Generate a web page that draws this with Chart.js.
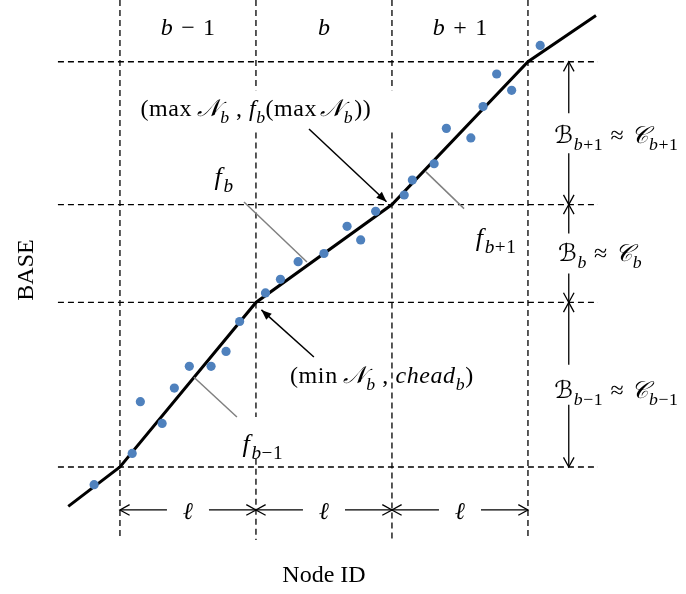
<!DOCTYPE html>
<html><head><meta charset="utf-8">
<script src="https://cdn.jsdelivr.net/npm/chart.js@4"></script>
<style>html,body{margin:0;padding:0;background:#fff}#wrap{width:686px;height:594px;position:relative}</style>
</head><body><div id="wrap"><canvas id="c" width="686" height="594"></canvas></div>
<script>
// ---- data (node ID units: one block = ℓ = 10) ----
const blockEdges = [0, 10, 20, 30];
const blockLabels = ['b', 'b', 'b'];
const blockOffsets = ['−1', '', '+1'];
const baseLevels = [0, 12.1, 19.3, 29.8];
const nodeIds    = [-1.9, 0.9, 1.5, 3.1, 4.0, 5.1, 6.7, 7.8, 8.8, 10.7, 11.8, 13.1, 15.0, 16.7, 17.7, 18.8, 20.9, 21.5, 23.1, 24.0, 25.8, 26.7, 27.7, 28.8, 30.9];
const baseValues = [-1.3, 1.0, 4.8, 3.2, 5.8, 7.4, 7.4, 8.5, 10.7, 12.8, 13.8, 15.1, 15.7, 17.7, 16.7, 18.8, 20.0, 21.1, 22.3, 24.9, 24.2, 26.5, 28.9, 27.7, 31.0];
const fitNodeIds = [-3.8, 0, 10, 20, 30, 35];
const fitBase    = [-2.9, 0, 12.1, 19.3, 29.8, 33.2];

// ---- layout (axis window, in data units) ----
const X_MIN = -8.82, X_MAX = 41.62, Y_MIN = -9.34, Y_MAX = 34.34;
const GRID_X_FROM = -4.56, GRID_X_TO = 35.15;
const VLINE_BOTTOM = -5.37;
const vGaps = { 10: [[27.7, 24.6], [3.68, 0.6]], 20: [[27.7, 24.6]] };

const datasets = [];
datasets.push({ data: nodeIds.map((x, i) => ({ x, y: baseValues[i] })), showLine: false,
  pointRadius: 4.6, pointBackgroundColor: '#4F81BD', pointBorderWidth: 0, order: 0 });
datasets.push({ data: fitNodeIds.map((x, i) => ({ x, y: fitBase[i] })), showLine: true,
  borderColor: '#000', borderWidth: 3, pointRadius: 0, order: 1 });
baseLevels.forEach(l => datasets.push({ data: [{ x: GRID_X_FROM, y: l }, { x: GRID_X_TO, y: l }],
  showLine: true, borderColor: '#000', borderWidth: 1.3, borderDash: [6, 4], pointRadius: 0, order: 2 }));
blockEdges.forEach(e => {
  const pts = [{ x: e, y: Y_MAX }];
  (vGaps[e] || []).forEach(g => { pts.push({ x: e, y: g[0] }); pts.push({ x: e, y: null }); pts.push({ x: e, y: g[1] }); });
  pts.push({ x: e, y: VLINE_BOTTOM });
  datasets.push({ data: pts, showLine: true, spanGaps: false, borderColor: '#000', borderWidth: 1.3,
    borderDash: [6, 4], pointRadius: 0, order: 2 });
});

const FAM = "'Liberation Serif','DejaVu Serif','DejaVu Sans','Noto Sans',serif";
function R(t){return {t, s:'r'};} function I(t){return {t, s:'i'};} function C(t){return {t, s:'c'};}
function SI(t){return {t, s:'i', sub:true};} function SR(t){return {t, s:'r', sub:true};} function G(g){return {g};}
function font(seg, size){ const sz = seg.sub ? size*0.74 : size; return (seg.s==='i'||seg.s==='c' ? 'italic ' : '') + sz + 'px ' + FAM; }
function rich(ctx, segs, cx, by, size, ls){
  ctx.letterSpacing = (ls||0) + 'px';
  let tot = 0; segs.forEach(s => { if(s.g!==undefined){ s.w = s.g*size; } else { ctx.font = font(s, size); s.w = ctx.measureText(s.t).width; } tot += s.w; });
  let x = cx - tot/2; ctx.textAlign='left'; ctx.textBaseline='alphabetic';
  segs.forEach(s => { if(s.g===undefined){ ctx.font = font(s, size); ctx.fillText(s.t, x, by + (s.sub ? size*0.28 : 0)); } x += s.w; });
  ctx.letterSpacing = '0px';
}
function openHead(ctx, x, y, ang){ const L=11, a=0.5; ctx.beginPath();
  ctx.moveTo(x - L*Math.cos(ang-a), y - L*Math.sin(ang-a)); ctx.lineTo(x, y);
  ctx.lineTo(x - L*Math.cos(ang+a), y - L*Math.sin(ang+a)); ctx.stroke(); }
function fillHead(ctx, x, y, ang){ const L=11, a=0.38; ctx.beginPath(); ctx.moveTo(x, y);
  ctx.lineTo(x - L*Math.cos(ang-a), y - L*Math.sin(ang-a)); ctx.lineTo(x - L*Math.cos(ang+a), y - L*Math.sin(ang+a)); ctx.closePath(); ctx.fill(); }
function dim(ctx, x1, y1, x2, y2, half){
  const mx=(x1+x2)/2, my=(y1+y2)/2, len=Math.hypot(x2-x1,y2-y1), ux=(x2-x1)/len, uy=(y2-y1)/len;
  ctx.beginPath(); ctx.moveTo(x1,y1); ctx.lineTo(mx-ux*half, my-uy*half);
  ctx.moveTo(mx+ux*half, my+uy*half); ctx.lineTo(x2,y2); ctx.stroke();
  const ang=Math.atan2(y2-y1,x2-x1); openHead(ctx,x2,y2,ang); openHead(ctx,x1,y1,ang+Math.PI);
}

const annot = {
  id:'annot',
  afterDraw(chart){
    const ctx=chart.ctx, xs=chart.scales.x, ys=chart.scales.y;
    const px=v=>xs.getPixelForValue(v), py=v=>ys.getPixelForValue(v);
    ctx.save(); ctx.fillStyle='#000'; ctx.strokeStyle='#000';
    // block labels
    for(let i=0;i<3;i++){
      const cx=px((blockEdges[i]+blockEdges[i+1])/2);
      const segs=[I(blockLabels[i])];
      if(blockOffsets[i]) segs.push(G(0.35), R(blockOffsets[i][0]), G(0.35), R(blockOffsets[i].slice(1)));
      rich(ctx, segs, cx, py(31.76), 24);
    }
    // bottom ℓ dimension arrows
    ctx.lineWidth=1.3;
    const yD=py(-3.16);
    for(let i=0;i<3;i++){
      dim(ctx, px(blockEdges[i]), yD, px(blockEdges[i+1]), yD, 21);
      rich(ctx,[I('ℓ')], px((blockEdges[i]+blockEdges[i+1])/2), yD+9, 24);
    }
    // right dimension arrows
    const xD=px(33.0);
    for(let i=3;i>0;i--) dim(ctx, xD, py(baseLevels[i]), xD, py(baseLevels[i-1]), 20);
    rich(ctx,[C('ℬ'),SI('b'),SR('+1'),G(0.3),R('≈'),G(0.3),C('𝒞'),SI('b'),SR('+1')], px(36.5), py(23.8), 24, 0.6);
    rich(ctx,[C('ℬ'),SI('b'),G(0.3),R('≈'),G(0.3),C('𝒞'),SI('b')], px(35.3), py(15.15), 24, 0.6);
    rich(ctx,[C('ℬ'),SI('b'),SR('−1'),G(0.3),R('≈'),G(0.3),C('𝒞'),SI('b'),SR('−1')], px(36.5), py(5.07), 24, 0.6);
    // leader lines
    ctx.strokeStyle='#808080'; ctx.lineWidth=1.5;
    [[[9.12,19.49],[13.75,15.07]],[[22.5,21.7],[25.3,19.0]],[[5.44,6.6],[8.6,3.68]]].forEach(s=>{
      ctx.beginPath(); ctx.moveTo(px(s[0][0]),py(s[0][1])); ctx.lineTo(px(s[1][0]),py(s[1][1])); ctx.stroke(); });
    ctx.strokeStyle='#000';
    rich(ctx,[I('f'),G(0.05),SI('b')], px(7.65), py(20.74), 26, 0.5);
    rich(ctx,[I('f'),G(0.05),SI('b'),SR('+1')], px(27.65), py(16.25), 26, 0.5);
    rich(ctx,[I('f'),G(0.05),SI('b'),SR('−1')], px(10.5), py(1.1), 26, 0.5);
    // pointer arrows
    ctx.lineWidth=1.5;
    const arrows=[[[13.9,24.85],[19.6,19.5]],[[14.26,8.09],[10.4,11.55]]];
    arrows.forEach(a=>{ const x1=px(a[0][0]),y1=py(a[0][1]),x2=px(a[1][0]),y2=py(a[1][1]);
      ctx.beginPath(); ctx.moveTo(x1,y1); ctx.lineTo(x2,y2); ctx.stroke(); fillHead(ctx,x2,y2,Math.atan2(y2-y1,x2-x1)); });
    rich(ctx,[R('(max'),G(0.2),C('𝒩'),SI('b'),R(' , '),I('f'),SI('b'),R('(max'),G(0.14),C('𝒩'),SI('b'),G(0.05),R('))')], px(10), py(25.8), 24, 0.5);
    rich(ctx,[R('(min'),G(0.2),C('𝒩'),SI('b'),R(' , '),I('chead'),SI('b'),R(')')], px(19.26), py(6.18), 24, 0.6);
    // axis titles
    ctx.font='24px '+FAM; ctx.textAlign='center'; ctx.textBaseline='alphabetic';
    ctx.fillText('Node ID', px(15), 582);
    ctx.save(); ctx.translate(33, 270); ctx.rotate(-Math.PI/2); ctx.fillText('BASE', 0, 0); ctx.restore();
    ctx.restore();
  }
};

new Chart(document.getElementById('c'), {
  type:'scatter',
  data:{ datasets },
  options:{ responsive:false, animation:false, layout:{padding:0, autoPadding:false},
    plugins:{ legend:{display:false}, tooltip:{enabled:false} },
    scales:{ x:{type:'linear', min:X_MIN, max:X_MAX, display:false}, y:{type:'linear', min:Y_MIN, max:Y_MAX, display:false} } },
  plugins:[annot]
});
</script></body></html>
